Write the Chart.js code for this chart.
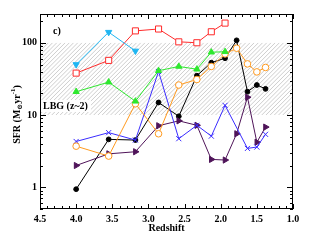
<!DOCTYPE html>
<html>
<head>
<meta charset="utf-8">
<script src="https://cdn.jsdelivr.net/npm/chart.js@4.4.1/dist/chart.umd.min.js"></script>
<style>
    html, body { margin: 0; padding: 0; background: #fff; }
</style>
</head>
<body>
<canvas id="graficoSFR" width="315" height="240"></canvas>
<script>
// --- dados ---
const redshiftBins = [4.0, 3.55, 3.18, 2.86, 2.58, 2.33, 2.13, 1.94, 1.78, 1.63, 1.50, 1.38];
const sfrCyan   = [50, 140, 77];
const sfrRed    = [38, 57, 146, 155, 103, 100, 142, 187];
const sfrGreen  = [21, 28.5, 15.5, 41, 47, 43, 74, 75];
const sfrBlack  = [0.94, 4.6, 4.5, 14.9, 9.6, 35, 53, 61, 108, 21, 26, 23];
const sfrOrange = [3.7, 2.7, 14.3, 5.5, 26, 31, 47, 70, 84, 51, 39.5, 45.5];
const sfrBlue   = [4.3, 5.7, 4.5, 40, 4.7, 7.2, 5.1, 13.6, null, 3.45, 3.6, 5.4];
const sfrPurple = [2.0, 2.9, 3.1, 7.1, 8.3, 7.2, 2.43, 2.38, 5.5, 17.6, 4.2, 6.8];
const xTickLabels = [1.0, 1.5, 2.0, 2.5, 3.0, 3.5, 4.0, 4.5];
const yTickLabels = [1, 10, 100];
const lbgRange = [10, 100];

const FONT = '"Liberation Serif", "DejaVu Serif", serif';
const toPoints = (vals) => vals.map((v, i) => ({ x: redshiftBins[i], y: v }));

const serie = (vals, color, style, extra) => Object.assign({
    data: toPoints(vals),
    borderColor: color,
    backgroundColor: color,
    pointBorderColor: color,
    pointBackgroundColor: color,
    borderWidth: 1,
    pointStyle: style,
    pointRadius: 3.5,
    pointBorderWidth: 1,
    spanGaps: true,
    tension: 0
}, extra || {});

// --- hachura, moldura e ticks para dentro ---
const moldura = {
    id: 'moldura',
    beforeDatasetsDraw(chart) {
        const { ctx, chartArea: a, scales: { y } } = chart;
        const yTop = y.getPixelForValue(lbgRange[1]);
        const yBot = y.getPixelForValue(lbgRange[0]);
        const h = yBot - yTop;
        ctx.save();
        ctx.beginPath();
        ctx.rect(a.left, yTop, a.right - a.left, h);
        ctx.clip();
        ctx.strokeStyle = '#c0c0c0';
        ctx.lineWidth = 0.8;
        ctx.beginPath();
        for (let px = a.left - h; px < a.right + 5; px += 4.2) {
            ctx.moveTo(px, yBot);
            ctx.lineTo(px + h, yTop);
        }
        ctx.stroke();
        ctx.font = 'bold 10px ' + FONT;
        const txt = 'LBG (z~2)';
        const w = ctx.measureText(txt).width;
        ctx.fillStyle = '#fff';
        ctx.fillRect(a.left + 1, yBot - 15, w + 5, 12);
        ctx.fillStyle = '#000';
        ctx.textBaseline = 'middle';
        ctx.fillText(txt, a.left + 3, yBot - 9);
        ctx.restore();
    },
    afterDraw(chart) {
        const { ctx, chartArea: a, scales: { x, y } } = chart;
        ctx.save();
        ctx.strokeStyle = '#000';
        ctx.lineWidth = 1;
        ctx.strokeRect(a.left + 0.5, a.top + 0.5, a.right - a.left - 1, a.bottom - a.top - 1);

        ctx.beginPath();
        for (let i = 10; i <= 45; i++) {
            const v = i / 10;
            const px = Math.round(x.getPixelForValue(v)) + 0.5;
            const len = i % 5 === 0 ? 5 : 3;
            ctx.moveTo(px, a.bottom); ctx.lineTo(px, a.bottom - len);
            ctx.moveTo(px, a.top); ctx.lineTo(px, a.top + len);
        }
        [0.1, 1, 10, 100].forEach(dec => {
            for (let m = 1; m <= 9; m++) {
                const v = dec * m;
                if (v < y.min || v > y.max) continue;
                const py = Math.round(y.getPixelForValue(v)) + 0.5;
                const len = m === 1 ? 6 : 3;
                ctx.moveTo(a.left, py); ctx.lineTo(a.left + len, py);
                ctx.moveTo(a.right, py); ctx.lineTo(a.right - len, py);
            }
        });
        ctx.stroke();

        ctx.fillStyle = '#000';
        ctx.font = 'bold 10px ' + FONT;
        ctx.textAlign = 'center';
        ctx.textBaseline = 'middle';
        ctx.fillText('c)', a.left + 17, a.top + 17);

        // título do eixo y: SFR (M_sun yr^-1)
        const parts = [
            { t: 'SFR (M', size: 10, dy: 0 },
            { t: '⊙', size: 7, dy: 3 },
            { t: 'yr', size: 10, dy: 0 },
            { t: '-1', size: 7, dy: -4 },
            { t: ')', size: 10, dy: 0 }
        ];
        let total = 0;
        parts.forEach(p => {
            ctx.font = 'bold ' + p.size + 'px ' + FONT;
            p.w = ctx.measureText(p.t).width;
            total += p.w;
        });
        ctx.translate(17, (a.top + a.bottom) / 2 + 3);
        ctx.rotate(-Math.PI / 2);
        ctx.textAlign = 'left';
        let cx = -total / 2;
        parts.forEach(p => {
            ctx.font = 'bold ' + p.size + 'px ' + FONT;
            ctx.fillText(p.t, cx, p.dy);
            cx += p.w;
        });
        ctx.restore();
    }
};

const ctxSFR = document.getElementById('graficoSFR');
new Chart(ctxSFR, {
    type: 'line',
    data: {
        datasets: [
            serie(sfrCyan, '#1fb6f2', 'triangle', { pointRotation: 180, pointRadius: 3.6 }),
            serie(sfrRed, '#ff2a2a', 'rect', { pointBackgroundColor: '#fff', pointRadius: 4.3 }),
            serie(sfrGreen, '#2ee82e', 'triangle', { pointRadius: 3.6 }),
            serie(sfrOrange, '#ff9a1f', 'circle', { pointBackgroundColor: '#fff', pointRadius: 3.3 }),
            serie(sfrBlue, '#3a2cff', 'crossRot', { pointRadius: 3.6 }),
            serie(sfrPurple, '#4f1459', 'triangle', { pointRotation: 90, pointRadius: 3.6 }),
            serie(sfrBlack, '#000000', 'circle', { pointRadius: 2.4 })
        ]
    },
    options: {
        responsive: false,
        animation: false,
        devicePixelRatio: 1,
        layout: { padding: { top: 14, right: 22, left: 0, bottom: 0 } },
        plugins: { legend: { display: false }, tooltip: { enabled: false } },
        scales: {
            x: {
                type: 'linear',
                reverse: true,
                min: 1.0,
                max: 4.5,
                grid: { display: false, drawTicks: false },
                border: { display: false },
                afterBuildTicks: (s) => { s.ticks = xTickLabels.map(v => ({ value: v })); },
                afterFit: (s) => { s.height = 31; },
                ticks: {
                    padding: 4,
                    maxRotation: 0,
                    autoSkip: false,
                    color: '#000',
                    font: { family: FONT, size: 10, weight: 'bold' },
                    callback: (v) => Number(v).toFixed(1)
                },
                title: {
                    display: true,
                    text: 'Redshift',
                    color: '#000',
                    font: { family: FONT, size: 10, weight: 'bold' },
                    padding: { top: 0, bottom: 6 }
                }
            },
            y: {
                type: 'logarithmic',
                min: 0.5,
                max: 250,
                grid: { display: false, drawTicks: false },
                border: { display: false },
                afterBuildTicks: (s) => { s.ticks = yTickLabels.map(v => ({ value: v })); },
                afterFit: (s) => { s.width = 40; },
                ticks: {
                    padding: 3,
                    autoSkip: false,
                    color: '#000',
                    font: { family: FONT, size: 10, weight: 'bold' },
                    callback: (v) => String(v)
                }
            }
        }
    },
    plugins: [moldura]
});
</script>
</body>
</html>
